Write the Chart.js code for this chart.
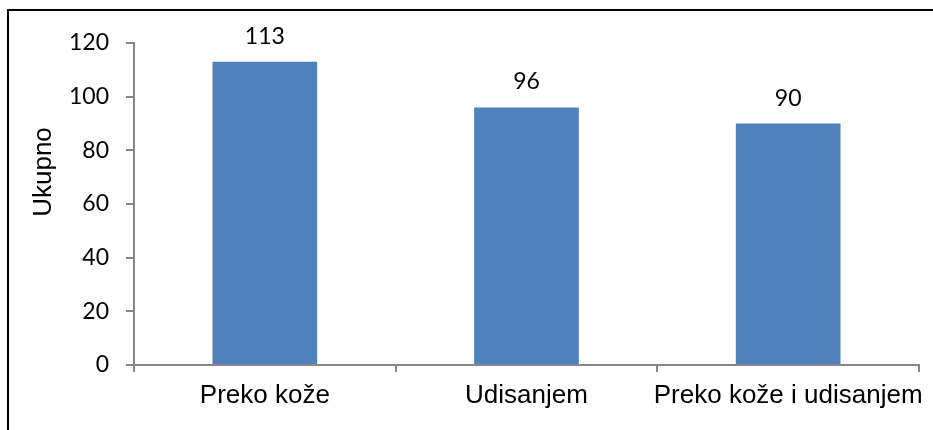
<!DOCTYPE html>
<html>
<head>
<meta charset="utf-8">
<script src="https://cdn.jsdelivr.net/npm/chart.js@4.4.1/dist/chart.umd.min.js"></script>
<style>
  html, body { margin: 0; padding: 0; background: #ffffff; }
  canvas { display: block; }
</style>
</head>
<body>
<canvas id="routeChart" width="933" height="430"></canvas>
<script>
const categories = ['Preko kože', 'Udisanjem', 'Preko kože i udisanjem'];
const totals = [113, 96, 90];
const yTicks = [0, 20, 40, 60, 80, 100, 120];
const yTitle = 'Ukupno';

document.addEventListener("DOMContentLoaded", function () {
    const canvas = document.getElementById('routeChart');
    const ctx = canvas.getContext('2d');

    // frame lines (only top and left are visible in the reference) + y title
    const framePlugin = {
        id: 'frame',
        afterDraw(chart) {
            const c = chart.ctx;
            c.save();
            c.strokeStyle = '#000000';
            c.lineWidth = 2;
            c.beginPath();
            c.moveTo(8, 430);
            c.lineTo(8, 10);
            c.lineTo(933, 10);
            c.stroke();

            c.fillStyle = '#000000';
            c.font = '26px "Liberation Sans", Arial, sans-serif';
            c.textAlign = 'center';
            c.textBaseline = 'middle';
            c.translate(44, 172);
            c.rotate(-Math.PI / 2);
            c.fillText(yTitle, 0, 0);
            c.restore();
        }
    };

    // value labels above the bars
    const valueLabels = {
        id: 'valueLabels',
        afterDatasetsDraw(chart) {
            const c = chart.ctx;
            const meta = chart.getDatasetMeta(0);
            c.save();
            c.fillStyle = '#000000';
            c.font = '23px Lato, "Open Sans", sans-serif';
            c.textAlign = 'center';
            c.textBaseline = 'alphabetic';
            meta.data.forEach(function (bar, i) {
                c.fillText(String(totals[i]), bar.x, bar.y - 18);
            });
            c.restore();
        }
    };

    new Chart(ctx, {
        type: 'bar',
        data: {
            labels: categories,
            datasets: [{
                label: yTitle,
                data: totals,
                backgroundColor: '#4F81BD',
                borderWidth: 0,
                categoryPercentage: 1,
                barPercentage: 0.4
            }]
        },
        options: {
            responsive: false,
            animation: false,
            events: [],
            layout: {
                padding: { top: 43, right: 14, left: 0, bottom: 0 }
            },
            plugins: {
                legend: { display: false },
                title: { display: false },
                tooltip: { enabled: false }
            },
            scales: {
                x: {
                    afterFit(scale) { scale.height = 65; },
                    grid: {
                        display: true,
                        drawOnChartArea: false,
                        drawTicks: true,
                        tickLength: 7,
                        color: '#868686',
                        lineWidth: 2,
                        offset: true
                    },
                    border: { display: true, color: '#868686', width: 2 },
                    ticks: {
                        color: '#000000',
                        padding: 8,
                        maxRotation: 0,
                        autoSkip: false,
                        font: { family: '"Liberation Sans", Arial, sans-serif', size: 26 }
                    }
                },
                y: {
                    min: 0,
                    max: 120,
                    afterFit(scale) { scale.width = 134; },
                    afterBuildTicks(scale) {
                        scale.ticks = yTicks.map(function (v) { return { value: v }; });
                    },
                    grid: {
                        display: true,
                        drawOnChartArea: false,
                        drawTicks: true,
                        tickLength: 8,
                        color: '#868686',
                        lineWidth: 2
                    },
                    border: { display: true, color: '#868686', width: 2 },
                    ticks: {
                        color: '#000000',
                        padding: 17,
                        font: { family: 'Lato, "Open Sans", sans-serif', size: 23 }
                    }
                }
            }
        },
        plugins: [framePlugin, valueLabels]
    });
});
</script>
</body>
</html>
